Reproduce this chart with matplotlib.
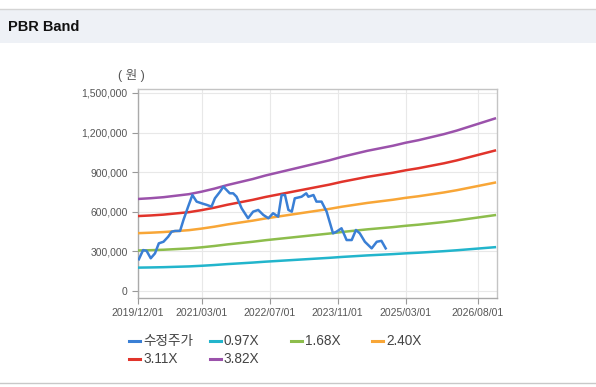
import matplotlib
matplotlib.use("Agg")
import matplotlib.pyplot as plt
from matplotlib.lines import Line2D
from matplotlib.patches import Rectangle

plt.rcParams['font.family'] = ['Liberation Sans', 'Noto Sans CJK KR']

# months since 2019/12
tick_months = [0, 15, 31, 47, 63, 80]
tick_labels = ['2019/12/01', '2021/03/01', '2022/07/01', '2023/11/01', '2025/03/01', '2026/08/01']

# BPS (won), quarterly
bps_months = list(range(0, 85, 3))
bps = [182500, 184000, 186000, 189000, 192000, 197000, 203000, 210000, 216000, 222000,
       229000, 235000, 241000, 247000, 253000, 259000, 266000, 272000, 278000, 283000,
       288000, 294000, 299000, 305000, 311000, 318000, 326000, 334000, 342000]

multiples = [0.97, 1.68, 2.40, 3.11, 3.82]
band_labels = ['0.97X', '1.68X', '2.40X', '3.11X', '3.82X']
band_colors = ['#22b5cc', '#8dbd4c', '#f8a637', '#e1342b', '#9b52ab']

# 수정주가 (adjusted price)
price_months = [0.2, 1.2, 2.0, 3.0, 4.0, 4.9, 6.0, 7.1, 7.9, 8.7, 9.9, 10.7, 11.8, 12.8,
                13.8, 15.0, 16.2, 17.3, 18.1, 19.3, 20.1, 21.6, 22.4, 23.2, 24.4, 25.9,
                27.1, 28.3, 29.5, 30.7, 31.8, 33.0, 33.8, 34.6, 35.4, 36.2, 36.9, 38.5,
                39.6, 40.1, 41.3, 42.0, 43.2, 44.4, 45.9, 46.7, 47.9, 49.1, 50.3, 51.3,
                52.2, 53.4, 55.0, 56.2, 57.3, 58.3]
price = [240000, 310000, 305000, 248000, 285000, 361000, 373000, 411000, 449000, 455000,
         455000, 538000, 639000, 727000, 677000, 664000, 652000, 639000, 702000, 752000,
         790000, 740000, 740000, 714000, 626000, 551000, 601000, 614000, 576000, 551000,
         589000, 563000, 727000, 727000, 614000, 601000, 702000, 714000, 740000, 714000,
         727000, 677000, 677000, 601000, 437000, 449000, 475000, 386000, 386000, 462000,
         437000, 373000, 323000, 373000, 380000, 323000]

W, H = 596, 387
fig = plt.figure(figsize=(W / 100, H / 100), dpi=100)
fig.patch.set_facecolor('white')

# header bar
fig.add_artist(Rectangle((0, 1 - 43 / H), 1, 34 / H, transform=fig.transFigure,
                         facecolor='#eef1f6', edgecolor='none'))
fig.add_artist(Line2D([0, 1], [1 - 8.5 / H] * 2, transform=fig.transFigure, color='#d4d4d4', lw=1))
fig.add_artist(Line2D([0, 1], [1 - 382.5 / H] * 2, transform=fig.transFigure, color='#c8c8c8', lw=1))
fig.text(8 / W, 1 - 27 / H, 'PBR Band', fontsize=10.5, fontweight='bold', va='center', ha='left',
         color='#111111')

ax = fig.add_axes([138 / W, 1 - 298 / H, (497 - 138) / W, (298 - 89) / H])
ax.set_xlim(0, 84.5)
ax.set_ylim(-53000, 1530000)

ax.plot(price_months, price, color='#3a7fd5', lw=1.8, zorder=5)
for m, c in zip(multiples, band_colors):
    ax.plot(bps_months, [m * b for b in bps], color=c, lw=1.8, zorder=3)

ax.set_xticks(tick_months)
ax.set_xticklabels(tick_labels)
yt = list(range(0, 1500001, 300000))
ax.set_yticks(yt)
ax.set_yticklabels([f'{v:,}' for v in yt])
ax.tick_params(axis='both', labelsize=7.5, labelcolor='#555555', color='#999999', length=4, width=0.8)
ax.grid(True, color='#e8e8e8', lw=0.8)
ax.set_axisbelow(True)
for s in ax.spines.values():
    s.set_color('#c4c4c4')
    s.set_linewidth(1)
ax.spines['left'].set_color('#aaaaaa')
ax.spines['bottom'].set_color('#aaaaaa')

fig.text(131 / W, 1 - 76 / H, '( 원 )', fontsize=9, color='#555555', ha='center', va='center')

# legend
legend_items = [('수정주가', '#3a7fd5')] + list(zip(band_labels, band_colors))
pos = [(129, 341), (210, 341), (291, 341), (372, 341), (129, 359), (210, 359)]
for (lab, col), (x, y) in zip(legend_items, pos):
    fig.add_artist(Line2D([x / W, (x + 11) / W], [1 - y / H] * 2, transform=fig.transFigure,
                          color=col, lw=2.2))
    fig.text((x + 14) / W, 1 - y / H, lab, fontsize=9.8, color='#444444', va='center', ha='left')

fig.savefig('out.png', dpi=100)
